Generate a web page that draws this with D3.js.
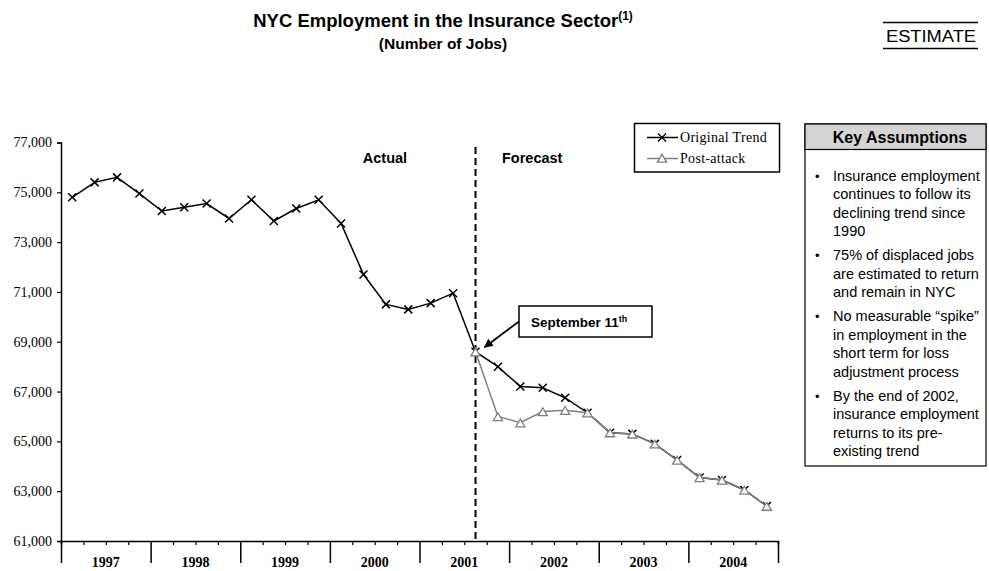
<!DOCTYPE html>
<html>
<head>
<meta charset="utf-8">
<script src="https://cdn.jsdelivr.net/npm/d3@7"></script>
<style>
  body { margin: 0; background: #fff; }
  svg { display: block; }
  .sans { font-family: "Liberation Sans", Arial, sans-serif; }
  .serif { font-family: "Liberation Serif", "Times New Roman", serif; }
</style>
</head>
<body>
<svg id="chart" width="989" height="571"></svg>
<script>
// Quarterly NYC insurance-sector employment, 1997 Q1 – 2004 Q4
const years = ["1997", "1998", "1999", "2000", "2001", "2002", "2003", "2004"];
const quarters = years.flatMap(y => ["Q1", "Q2", "Q3", "Q4"].map(q => y + " " + q));

const originalTrend = [
  74800, 75400, 75600, 74950,
  74250, 74400, 74550, 73950,
  74700, 73850, 74350, 74700,
  73750, 71700, 70500, 70300,
  70550, 70950, 68600, 68000,
  67200, 67150, 66750, 66150,
  65350, 65300, 64900, 64250,
  63550, 63450, 63050, 62400
];

const postAttack = [
  null, null, null, null,
  null, null, null, null,
  null, null, null, null,
  null, null, null, null,
  null, null, 68600, 66000,
  65750, 66200, 66250, 66150,
  65350, 65300, 64900, 64250,
  63550, 63450, 63050, 62400
];

const yTicks = [61000, 63000, 65000, 67000, 69000, 71000, 73000, 75000, 77000];
const eventQuarter = "2001 Q3";

const assumptions = [
  ["Insurance employment", "continues to follow its", "declining trend since", "1990"],
  ["75% of displaced jobs", "are estimated to return", "and remain in NYC"],
  ["No measurable \u201cspike\u201d", "in employment in the", "short term for loss", "adjustment process"],
  ["By the end of 2002,", "insurance employment", "returns to its pre-", "existing trend"]
];

const svg = d3.select("#chart");

// ---- scales ----
const plot = { left: 61, right: 778, top: 142.5, bottom: 541 };
const xq = d3.scaleBand().domain(quarters).range([plot.left, plot.right]).padding(0);
const xy = d3.scaleBand().domain(years).range([plot.left, plot.right]).padding(0);
const xEdge = d3.scaleLinear().domain([0, quarters.length]).range([plot.left, plot.right]);
const y = d3.scaleLinear().domain([61000, 77000]).range([plot.bottom, plot.top]);
const cx = q => xq(q) + xq.bandwidth() / 2;

// ---- title ----
const title = svg.append("text").attr("class", "sans")
  .attr("x", 443).attr("y", 27).attr("text-anchor", "middle")
  .attr("font-size", 18.5).attr("font-weight", "bold");
title.append("tspan").text("NYC Employment in the Insurance Sector");
title.append("tspan").attr("font-size", 12).attr("dy", -7).text("(1)");

svg.append("text").attr("class", "sans")
  .attr("x", 443).attr("y", 49).attr("text-anchor", "middle")
  .attr("font-size", 15.5).attr("font-weight", "bold")
  .text("(Number of Jobs)");

// ESTIMATE tag with rules above and below
svg.append("line").attr("x1", 883).attr("x2", 978).attr("y1", 22.5).attr("y2", 22.5)
  .attr("stroke", "#000").attr("stroke-width", 1.5);
svg.append("line").attr("x1", 883).attr("x2", 978).attr("y1", 48.5).attr("y2", 48.5)
  .attr("stroke", "#000").attr("stroke-width", 1.5);
svg.append("text").attr("class", "sans")
  .attr("x", 931).attr("y", 42).attr("text-anchor", "middle")
  .attr("font-size", 16).attr("textLength", 90).attr("lengthAdjust", "spacingAndGlyphs")
  .text("ESTIMATE");

// ---- axes ----
const yAxis = d3.axisLeft(y).tickValues(yTicks).tickSize(4).tickPadding(5)
  .tickFormat(d3.format(","));
const gy = svg.append("g").attr("transform", `translate(${plot.left},0)`).call(yAxis);
gy.select(".domain").attr("stroke-width", 1.5);
gy.selectAll(".tick line").attr("stroke-width", 1.2);
gy.selectAll("text").attr("class", "serif").attr("font-size", 14).attr("fill", "#000");

// quarter ticks (short) and year separators (long)
const quarterEdges = d3.range(0, quarters.length + 1).filter(i => i % 4 !== 0);
const yearEdges = d3.range(0, quarters.length + 1, 4);
const gxq = svg.append("g").attr("transform", `translate(0,${plot.bottom})`)
  .call(d3.axisBottom(xEdge).tickValues(quarterEdges).tickSize(4).tickFormat(""));
gxq.select(".domain").attr("stroke-width", 1.5);
gxq.selectAll(".tick line").attr("stroke-width", 1.2);
const gxy = svg.append("g").attr("transform", `translate(0,${plot.bottom})`)
  .call(d3.axisBottom(xEdge).tickValues(yearEdges).tickSize(22).tickFormat(""));
gxy.select(".domain").remove();
gxy.selectAll(".tick line").attr("stroke-width", 1.5);

const gyl = svg.append("g").attr("transform", `translate(0,${plot.bottom})`)
  .call(d3.axisBottom(xy).tickSize(0).tickPadding(16));
gyl.select(".domain").remove();
gyl.selectAll("text").attr("class", "serif").attr("font-size", 14)
  .attr("font-weight", "bold").attr("fill", "#000");

// ---- actual / forecast divider ----
const xEvent = cx(eventQuarter);
svg.append("line")
  .attr("x1", xEvent).attr("x2", xEvent)
  .attr("y1", 147).attr("y2", plot.bottom)
  .attr("stroke", "#000").attr("stroke-width", 2).attr("stroke-dasharray", "7,4");

svg.append("text").attr("class", "sans").attr("x", 385).attr("y", 163)
  .attr("text-anchor", "middle").attr("font-size", 14.5).attr("font-weight", "bold")
  .text("Actual");
svg.append("text").attr("class", "sans").attr("x", 502).attr("y", 163)
  .attr("font-size", 14.5).attr("font-weight", "bold")
  .text("Forecast");

// ---- series ----
const origData = quarters.map((q, i) => ({ q, v: originalTrend[i] }));
const postData = quarters.map((q, i) => ({ q, v: postAttack[i] })).filter(d => d.v != null);

const line = d3.line().x(d => cx(d.q)).y(d => y(d.v));

const xMark = "M-4,-4L4,4M-4,4L4,-4";
const triMark = "M0,-4.2L4.6,3.6L-4.6,3.6Z";

svg.append("path").datum(origData).attr("d", line)
  .attr("fill", "none").attr("stroke", "#000").attr("stroke-width", 1.5);
svg.append("g").selectAll("path").data(origData).join("path")
  .attr("transform", d => `translate(${cx(d.q)},${y(d.v)})`)
  .attr("d", xMark).attr("stroke", "#000").attr("stroke-width", 1.5).attr("fill", "none");

svg.append("path").datum(postData).attr("d", line)
  .attr("fill", "none").attr("stroke", "#808080").attr("stroke-width", 1.5);
svg.append("g").selectAll("path").data(postData).join("path")
  .attr("transform", d => `translate(${cx(d.q)},${y(d.v) + 0.5})`)
  .attr("d", triMark).attr("stroke", "#808080").attr("stroke-width", 1.3).attr("fill", "#fff");

// ---- legend ----
const lg = svg.append("g");
lg.append("rect").attr("x", 634.5).attr("y", 123.5).attr("width", 145).attr("height", 48.5)
  .attr("fill", "#fff").attr("stroke", "#000").attr("stroke-width", 1.5);
const legendItems = [
  { label: "Original Trend", color: "#000", mark: xMark, fill: "none", y: 137.5, ty: 142 },
  { label: "Post-attack", color: "#808080", mark: triMark, fill: "#fff", y: 158.5, ty: 163 }
];
legendItems.forEach(it => {
  lg.append("line").attr("x1", 647).attr("x2", 678).attr("y1", it.y).attr("y2", it.y)
    .attr("stroke", it.color).attr("stroke-width", 1.5);
  lg.append("path").attr("transform", `translate(662,${it.y})`).attr("d", it.mark)
    .attr("stroke", it.color).attr("stroke-width", 1.4).attr("fill", it.fill);
  lg.append("text").attr("class", "serif").attr("x", 680).attr("y", it.ty)
    .attr("font-size", 14).attr("letter-spacing", 0.3).text(it.label);
});

// ---- September 11th callout ----
const evIdx = quarters.indexOf(eventQuarter);
const evX = cx(eventQuarter), evY = y(originalTrend[evIdx]);
svg.append("defs").append("marker").attr("id", "arrow")
  .attr("viewBox", "0 0 10 10").attr("refX", 9).attr("refY", 5)
  .attr("markerWidth", 5).attr("markerHeight", 5).attr("orient", "auto")
  .append("path").attr("d", "M0,0L10,5L0,10Z").attr("fill", "#000");
svg.append("line")
  .attr("x1", 519).attr("y1", 321.5)
  .attr("x2", evX + 9).attr("y2", evY - 4.5)
  .attr("stroke", "#000").attr("stroke-width", 1.8).attr("marker-end", "url(#arrow)");
svg.append("rect").attr("x", 519).attr("y", 306).attr("width", 133).attr("height", 31)
  .attr("fill", "#fff").attr("stroke", "#000").attr("stroke-width", 1.5);
const sep = svg.append("text").attr("class", "sans").attr("x", 531).attr("y", 326.5)
  .attr("font-size", 13.5).attr("font-weight", "bold");
sep.append("tspan").text("September 11");
sep.append("tspan").attr("font-size", 9).attr("dy", -5).text("th");

// ---- Key Assumptions panel ----
const kx = 805, ky = 124, kw = 181, kh = 342, headH = 25.5;
svg.append("rect").attr("x", kx).attr("y", ky).attr("width", kw).attr("height", kh)
  .attr("fill", "#fff").attr("stroke", "#000").attr("stroke-width", 1.2);
svg.append("rect").attr("x", kx).attr("y", ky).attr("width", kw).attr("height", headH)
  .attr("fill", "#d4d4d4").attr("stroke", "#000").attr("stroke-width", 1.2);
svg.append("text").attr("class", "sans").attr("x", 900).attr("y", ky + 19)
  .attr("text-anchor", "middle").attr("font-size", 16).attr("font-weight", "bold")
  .text("Key Assumptions");

const lineH = 18.5, bulletGap = 24;
let ty = 180.5;
assumptions.forEach(lines => {
  svg.append("text").attr("class", "sans").attr("x", 815).attr("y", ty)
    .attr("font-size", 13).text("\u2022");
  lines.forEach((t, i) => {
    svg.append("text").attr("class", "sans").attr("x", 833).attr("y", ty + i * lineH)
      .attr("font-size", 14.5).text(t);
  });
  ty += (lines.length - 1) * lineH + bulletGap;
});
</script>
</body>
</html>
